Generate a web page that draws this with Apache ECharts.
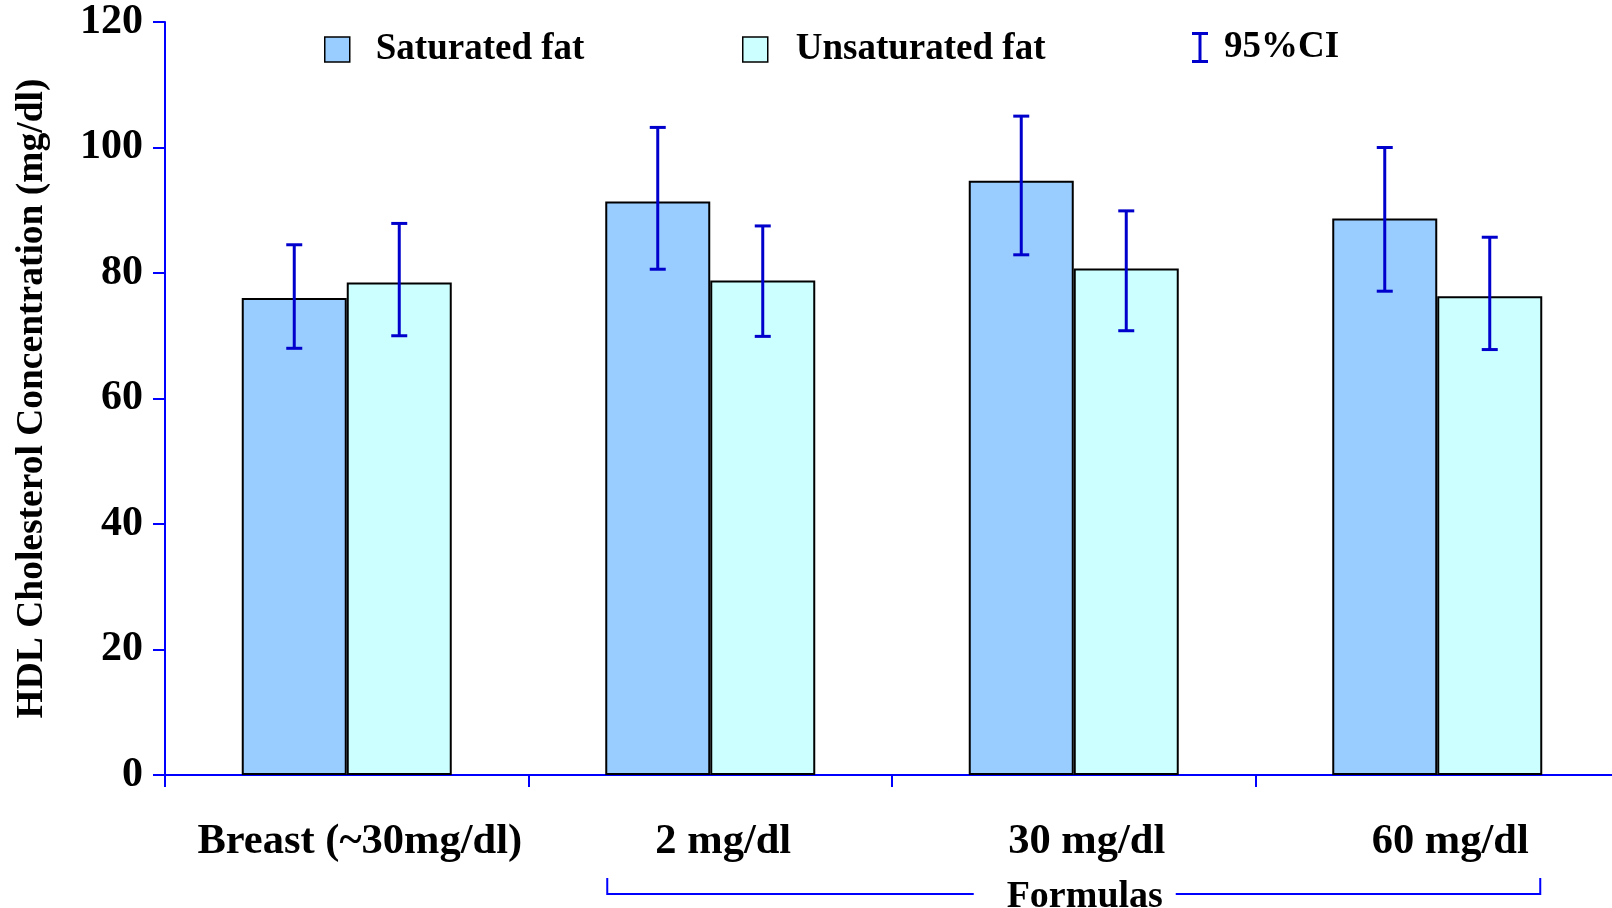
<!DOCTYPE html>
<html>
<head>
<meta charset="utf-8">
<script src="https://cdn.jsdelivr.net/npm/echarts@6.0.0/dist/echarts.min.js"></script>
<style>
  html, body { margin: 0; padding: 0; background: #ffffff; }
  #chart { width: 1612px; height: 908px; }
</style>
</head>
<body>
<div id="chart"></div>
<script>
// HDL cholesterol by feeding group, saturated vs unsaturated fat, with 95% CI
const categories = ['Breast (~30mg/dl)', '2 mg/dl', '30 mg/dl', '60 mg/dl'];
const saturated = [76.0, 91.4, 94.7, 88.7];
const unsaturated = [78.5, 78.8, 80.7, 76.3];
const saturatedLow = [68.0, 80.6, 82.9, 77.1];
const saturatedHigh = [84.5, 103.2, 105.0, 100.0];
const unsaturatedLow = [70.0, 69.9, 70.8, 67.8];
const unsaturatedHigh = [87.9, 87.5, 89.9, 85.7];
const yTicks = [0, 20, 40, 60, 80, 100, 120];
const groupLabel = 'Formulas';

const FONT = '"Liberation Serif", "Times New Roman", serif';
const AXIS_BLUE = '#0000ff';
const CI_BLUE = '#0000cc';
const SAT_COLOR = '#99ccff';
const UNSAT_COLOR = '#ccffff';
const BAR_W = 105;

// error bar rows: [category index, low, high, side (-1 saturated, +1 unsaturated)]
const ciData = [];
categories.forEach((c, i) => {
  ciData.push([i, saturatedLow[i], saturatedHigh[i], -1]);
  ciData.push([i, unsaturatedLow[i], unsaturatedHigh[i], 1]);
});

const chart = echarts.init(document.getElementById('chart'), null, { renderer: 'canvas' });

const legendCommon = {
  orient: 'horizontal',
  padding: 0,
  itemWidth: 25,
  itemHeight: 25,
  selectedMode: false,
  textStyle: { fontFamily: FONT, fontSize: 37, fontWeight: 'bold', color: '#000' }
};

const option = {
  animation: false,
  backgroundColor: '#ffffff',
  grid: { left: 165, top: 22, bottom: 133, right: -7, containLabel: false, outerBoundsMode: 'none' },
  legend: [
    Object.assign({}, legendCommon, {
      left: 324, top: 31,
      textStyle: Object.assign({}, legendCommon.textStyle, { padding: [0, 0, 0, 21] }),
      data: [{ name: 'Saturated fat', icon: 'rect', itemStyle: { color: SAT_COLOR, borderColor: '#000', borderWidth: 1.5 } }]
    }),
    Object.assign({}, legendCommon, {
      left: 742, top: 31,
      textStyle: Object.assign({}, legendCommon.textStyle, { padding: [0, 0, 0, 23] }),
      data: [{ name: 'Unsaturated fat', icon: 'rect', itemStyle: { color: UNSAT_COLOR, borderColor: '#000', borderWidth: 1.5 } }]
    }),
    Object.assign({}, legendCommon, {
      left: 1192, top: 29,
      itemWidth: 16, itemHeight: 31,
      textStyle: Object.assign({}, legendCommon.textStyle, { padding: [0, 0, 0, 11] }),
      data: [{ name: '95%CI', icon: 'path://M0,0H16V3H9.5V28H16V31H0V28H6.5V3H0Z', itemStyle: { color: CI_BLUE, borderWidth: 0 } }]
    })
  ],
  xAxis: {
    type: 'category',
    data: categories,
    boundaryGap: true,
    axisLine: { show: true, onZero: false, lineStyle: { color: AXIS_BLUE, width: 2 } },
    axisTick: { show: true, inside: false, length: 12, interval: 0, alignWithLabel: false, lineStyle: { color: AXIS_BLUE, width: 2 } },
    axisLabel: {
      interval: 0, margin: 46, fontFamily: FONT, fontSize: 42.5, fontWeight: 'bold', color: '#000',
      padding: [0, 0, 0, 26]
    },
    splitLine: { show: false }
  },
  yAxis: {
    type: 'value',
    min: yTicks[0],
    max: yTicks[yTicks.length - 1],
    interval: yTicks[1] - yTicks[0],
    name: 'HDL Cholesterol Concentration (mg/dl)',
    nameLocation: 'middle',
    nameRotate: 90,
    nameGap: 114,
    nameTextStyle: { fontFamily: FONT, fontSize: 37.5, fontWeight: 'bold', color: '#000' },
    axisLine: { show: true, lineStyle: { color: AXIS_BLUE, width: 2 } },
    axisTick: { show: true, inside: false, length: 12, lineStyle: { color: AXIS_BLUE, width: 2 } },
    axisLabel: { margin: 22, fontFamily: FONT, fontSize: 42, fontWeight: 'bold', color: '#000' },
    splitLine: { show: false }
  },
  series: [
    {
      name: 'Saturated fat',
      type: 'bar',
      data: saturated,
      barWidth: BAR_W,
      barGap: '0%',
      itemStyle: { color: SAT_COLOR, borderColor: '#000', borderWidth: 2 },
      emphasis: { disabled: true },
      z: 2
    },
    {
      name: 'Unsaturated fat',
      type: 'bar',
      data: unsaturated,
      barWidth: BAR_W,
      barGap: '0%',
      itemStyle: { color: UNSAT_COLOR, borderColor: '#000', borderWidth: 2 },
      emphasis: { disabled: true },
      z: 2
    },
    {
      name: '95%CI',
      type: 'custom',
      data: ciData,
      encode: { x: 0, y: [1, 2] },
      itemStyle: { color: CI_BLUE },
      z: 5,
      renderItem: function (params, api) {
        const idx = api.value(0);
        const x = api.coord([idx, 0])[0] + api.value(3) * BAR_W / 2;
        const yLo = api.coord([idx, api.value(1)])[1];
        const yHi = api.coord([idx, api.value(2)])[1];
        const half = 8;
        const style = { stroke: CI_BLUE, lineWidth: 3 };
        return {
          type: 'group',
          children: [
            { type: 'line', shape: { x1: x, y1: yHi, x2: x, y2: yLo }, style: style },
            { type: 'line', shape: { x1: x - half, y1: yHi, x2: x + half, y2: yHi }, style: style },
            { type: 'line', shape: { x1: x - half, y1: yLo, x2: x + half, y2: yLo }, style: style }
          ]
        };
      }
    }
  ]
};

chart.setOption(option);

// bracket grouping the formula categories, placed from the axis scales
const xFirst = chart.convertToPixel({ xAxisIndex: 0 }, categories[1]);
const xLast = chart.convertToPixel({ xAxisIndex: 0 }, categories[categories.length - 1]);
const yBase = chart.convertToPixel({ yAxisIndex: 0 }, 0);
const bLeft = xFirst - BAR_W + 2;
const bRight = xLast + BAR_W - 2;
const bTop = yBase + 103;
const bBottom = yBase + 119;
const mid = (bLeft + bRight) / 2;
const bracketStyle = { stroke: AXIS_BLUE, lineWidth: 2, fill: null };

chart.setOption({
  graphic: [
    { type: 'polyline', shape: { points: [[bLeft, bTop], [bLeft, bBottom], [mid - 100, bBottom]] }, style: bracketStyle, silent: true },
    { type: 'polyline', shape: { points: [[mid + 102, bBottom], [bRight, bBottom], [bRight, bTop]] }, style: bracketStyle, silent: true },
    {
      type: 'text', x: mid + 11, y: bBottom + 3, silent: true,
      style: { text: groupLabel, font: 'bold 38px ' + FONT, fill: '#000', align: 'center', verticalAlign: 'middle' }
    }
  ]
});
</script>
</body>
</html>
